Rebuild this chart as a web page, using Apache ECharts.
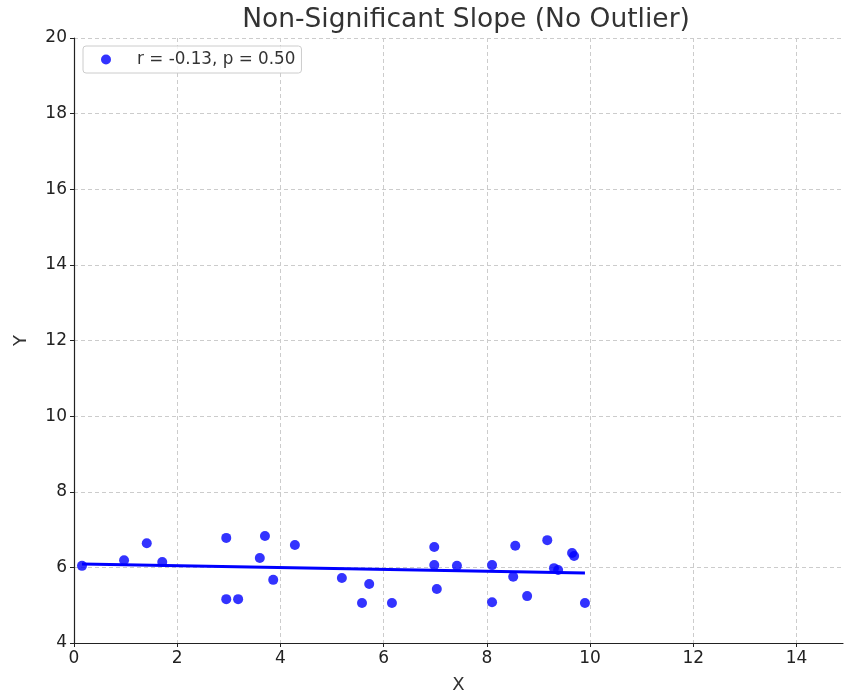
<!DOCTYPE html>
<html><head><meta charset="utf-8">
<script src="https://cdn.jsdelivr.net/npm/echarts@6/dist/echarts.min.js"></script>
<style>html,body{margin:0;padding:0;background:#fff}#c{width:844px;height:696px}</style>
</head><body><div id="c"></div>
<script>
const xVals = [0.155,0.97,1.41,1.71,2.95,2.95,3.18,3.60,3.70,3.86,4.28,5.19,5.58,5.72,6.16,6.98,6.98,7.03,7.42,8.10,8.10,8.51,8.55,8.78,9.17,9.30,9.38,9.65,9.69,9.90];
const yVals = [6.04,6.19,6.64,6.14,6.78,5.16,5.16,6.25,6.83,5.67,6.59,5.72,5.06,5.56,5.06,6.54,6.06,5.43,6.04,6.06,5.08,5.75,6.57,5.24,6.72,5.98,5.93,6.38,6.30,5.06];
const fitX = [0.155, 9.90];
const fitY = [6.09, 5.85];
const xTicks = [0,2,4,6,8,10,12,14];
const legendLabel = 'r = -0.13, p = 0.50';
const titleText = 'Non-Significant Slope (No Outlier)';

const pts = xVals.map((x,i)=>[x,yVals[i]]);
const fit = fitX.map((x,i)=>[x,fitY[i]]);
const font = 'DejaVu Sans';
const chart = echarts.init(document.getElementById('c'));
chart.setOption({
  animation:false,
  textStyle:{fontFamily:font},
  title:{text:titleText,left:461,top:2,textAlign:'center',textStyle:{fontFamily:font,fontSize:26.5,fontWeight:'normal',color:'#333'}},
  grid:{left:74,right:1,top:38,bottom:53,containLabel:false,outerBoundsMode:'none'},
  legend:{left:83,top:46,padding:[5,6,5,18],itemGap:10,itemWidth:10,itemHeight:10,
    borderColor:'#ccc',borderWidth:1,borderRadius:3,backgroundColor:'rgba(255,255,255,0.8)',
    data:[{name:legendLabel,icon:'circle'}],
    textStyle:{fontFamily:font,fontSize:16.8,color:'#333',padding:[0,0,0,21]}},
  xAxis:{type:'value',min:0,max:14.9,interval:2,name:'X',nameLocation:'middle',nameGap:33,
    nameTextStyle:{fontFamily:font,fontSize:18,color:'#333'},
    axisLine:{lineStyle:{color:'#222',width:1.2}},
    axisTick:{show:true,length:4,lineStyle:{color:'#222'},customValues:xTicks},
    axisLabel:{fontFamily:font,fontSize:17,color:'#222',margin:7,customValues:xTicks},
    splitLine:{show:true,lineStyle:{color:'#ccc',type:[4,3],width:1}}},
  yAxis:{type:'value',min:4,max:20,interval:2,name:'Y',nameLocation:'middle',nameGap:44,
    nameTextStyle:{fontFamily:font,fontSize:18,color:'#333'},
    axisLine:{show:true,lineStyle:{color:'#222',width:1.2}},
    axisTick:{show:true,length:4,lineStyle:{color:'#222'}},
    axisLabel:{fontFamily:font,fontSize:17,color:'#222',margin:7},
    splitLine:{show:true,lineStyle:{color:'#ccc',type:[4,3],width:1}}},
  series:[
    {name:legendLabel,type:'scatter',data:pts,symbolSize:10,itemStyle:{color:'rgba(0,0,255,0.8)',opacity:1},z:3},
    {name:'fit',type:'line',data:fit,showSymbol:false,symbol:'none',lineStyle:{color:'#0000ff',width:3},z:4}
  ]
});
</script></body></html>
